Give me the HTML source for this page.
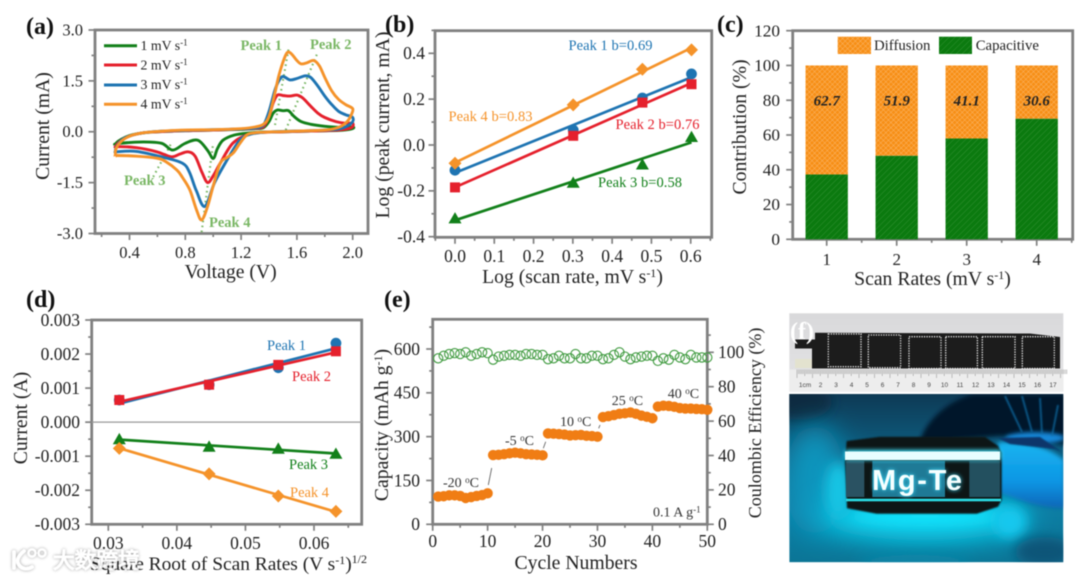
<!DOCTYPE html>
<html lang="en">
<head>
<meta charset="utf-8">
<title>Mg-Te battery electrochemistry figure</title>
<style>
html,body{margin:0;padding:0;background:#fff;width:1080px;height:579px;overflow:hidden}
#figure{display:block;filter:blur(0.45px)}
text{font-family:"Liberation Serif","Noto Serif CJK SC",serif;fill:#222}
.title{font-size:19.7px}
.panel{font-size:24px;font-weight:bold;fill:#111}
.anno{font-size:14.5px;font-weight:bold;fill:#7ab765}
.lab{font-size:14.5px}
.temp{font-size:14px;fill:#333}
</style>
</head>
<body>
<svg id="figure" xmlns="http://www.w3.org/2000/svg" width="1080" height="579" viewBox="0 0 1080 579">
<defs>
<pattern id="hatch-orange" width="3.6" height="3.6" patternUnits="userSpaceOnUse" patternTransform="rotate(45)">
<rect width="3.6" height="3.6" fill="#f78f16"/>
<path d="M0 0H3.6M0 0V3.6" stroke="#fcc17f" stroke-width="0.75"/>
</pattern>
<pattern id="hatch-green" width="4.2" height="4.2" patternUnits="userSpaceOnUse" patternTransform="rotate(-45)">
<rect width="4.2" height="4.2" fill="#0b7a0f"/>
<path d="M0 0H4.2" stroke="#3f993f" stroke-width="0.7"/>
</pattern>
<linearGradient id="glow-base" x1="0" y1="0" x2="0" y2="1">
<stop offset="0" stop-color="#0d3a55"/><stop offset="0.35" stop-color="#0d5f82"/><stop offset="0.7" stop-color="#0d7da3"/><stop offset="1" stop-color="#0b7596"/>
</linearGradient>
<linearGradient id="finger-fill" x1="0" y1="0" x2="0" y2="1">
<stop offset="0" stop-color="#18b4f0"/><stop offset="0.6" stop-color="#0d96e4"/><stop offset="1" stop-color="#0866b8"/>
</linearGradient>
<linearGradient id="photo-top-bg" x1="0" y1="0" x2="0" y2="1">
<stop offset="0" stop-color="#d9d9db"/><stop offset="1" stop-color="#e4e4e6"/>
</linearGradient>
<filter id="soft14" x="-60%" y="-100%" width="220%" height="300%"><feGaussianBlur stdDeviation="14"/></filter>
<filter id="soft6" x="-60%" y="-60%" width="220%" height="220%"><feGaussianBlur stdDeviation="6"/></filter>
<filter id="soft2" x="-20%" y="-40%" width="140%" height="180%"><feGaussianBlur stdDeviation="2"/></filter>
<filter id="soft1" x="-10%" y="-10%" width="120%" height="120%"><feGaussianBlur stdDeviation="0.8"/></filter>
<filter id="wm-shadow" x="-20%" y="-30%" width="140%" height="160%"><feDropShadow dx="0" dy="0" stdDeviation="1.6" flood-color="#000" flood-opacity="0.45"/></filter>
<clipPath id="clip-photo-bottom"><rect x="789.3" y="394" width="274" height="168.3"/></clipPath>
</defs>
<rect width="1080" height="579" fill="#fff"/>

<!-- photos -->
<g id="photo-strip">
<rect x="789.3" y="313.3" width="274" height="78.4" fill="url(#photo-top-bg)"/>
<path d="M795 339.5H815V332.7L1030 333.5L1060 337V368.5H812V348.5H795Z" fill="#1c1c1c"/>
<rect x="795" y="359" width="17" height="9" fill="#e3e2cf"/>
<g fill="none" stroke="#f2f2f2" stroke-width="1.3" stroke-dasharray="1.2 1.3">
<rect x="828.3" y="334" width="32.7" height="32.7"/>
<rect x="868.3" y="335" width="32.3" height="32.7"/>
<rect x="909" y="336.7" width="32" height="31.7"/>
<rect x="945.7" y="336.7" width="31.7" height="31.7"/>
<rect x="982.3" y="336.7" width="32.7" height="31.7"/>
<rect x="1022.3" y="336.7" width="32" height="31.7"/>
</g>
<rect x="789.3" y="369.5" width="274" height="22" fill="#ededed"/>
<g id="ruler-marks"></g>
</g>
<g id="photo-glow" clip-path="url(#clip-photo-bottom)">
<rect x="789.3" y="394" width="274" height="168.3" fill="url(#glow-base)"/>
<ellipse cx="798" cy="402" rx="34" ry="18" fill="#0c2a40" filter="url(#soft6)"/>
<ellipse cx="815" cy="480" rx="30" ry="55" fill="#1195bd" filter="url(#soft14)"/>
<ellipse cx="925" cy="518" rx="105" ry="22" fill="#10dcf8" filter="url(#soft14)"/>
<ellipse cx="925" cy="516" rx="75" ry="7" fill="#16e8ff" opacity="0.7" filter="url(#soft6)"/>
<ellipse cx="838" cy="490" rx="13" ry="28" fill="#12c4e4" filter="url(#soft6)"/>
<ellipse cx="1010" cy="522" rx="16" ry="16" fill="#12c8ee" filter="url(#soft6)"/>
<ellipse cx="915" cy="562" rx="55" ry="7" fill="#0b86a8" filter="url(#soft6)"/>
<ellipse cx="1045" cy="552" rx="30" ry="15" fill="#0a5478" filter="url(#soft6)"/>
<path d="M920 440C928 418 948 402 972 394H1066V445L1000 436L925 442Z" fill="#02192c" filter="url(#soft2)"/>
<ellipse cx="1035" cy="438" rx="30" ry="6" fill="#1287d8" filter="url(#soft2)"/>
<g stroke="#0f6ea8" stroke-width="1.8" opacity="0.8" filter="url(#soft1)">
<path d="M1005 396L1022 432"/><path d="M1022 396L1032 432"/>
<path d="M1040 398L1042 434"/><path d="M1058 405L1052 436"/>
</g>
<path d="M998 442C1030 442 1050 448 1064 460V508C1040 508 1020 500 998 492Z" fill="url(#finger-fill)" filter="url(#soft2)"/>
<path d="M998 438L1040 437L1062 452L1055 449L1010 444Z" fill="#07356a" filter="url(#soft1)"/>
<path d="M846.7 441L880 436.7L985 436.7L998 446L1001.7 453V500L998 506.7L976.7 513.7H876.7L847 508.3L845 460Z" fill="#0e1418" filter="url(#soft1)"/>
<rect x="846" y="461" width="18.3" height="36" fill="#2a5262"/>
<rect x="969.3" y="461" width="30.7" height="36" fill="#23505f"/>
<rect x="872.3" y="461" width="72.7" height="36" fill="#1f7a96"/>
<rect x="845" y="450" width="156" height="10" rx="2" fill="#3fe6ff" filter="url(#soft2)"/>
<rect x="845" y="451.5" width="155" height="8.5" fill="#e8feff"/>
<rect x="846" y="498.7" width="155" height="2.6" fill="#2cdde4"/>
<text x="872" y="490" style="font-family:'Liberation Sans',sans-serif;font-size:29px;font-weight:bold;fill:#3fe0ff" textLength="90" filter="url(#soft2)">Mg-Te</text>
<text x="872" y="490" style="font-family:'Liberation Sans',sans-serif;font-size:29px;font-weight:bold;fill:#f6ffff" textLength="90">Mg-Te</text>
</g>

<!-- static titles -->
<text class="panel" x="26" y="34">(a)</text>
<text class="panel" x="385" y="32">(b)</text>
<text class="panel" x="717" y="32">(c)</text>
<text class="panel" x="26" y="307">(d)</text>
<text class="panel" x="384" y="307">(e)</text>
<text class="panel" x="790" y="339" style="fill:#fff">(f)</text>

<text class="title" x="230.7" y="278" text-anchor="middle">Voltage (V)</text>
<text class="title" transform="translate(49,126) rotate(-90)" text-anchor="middle">Current (mA)</text>

<text class="title" x="572.5" y="283" text-anchor="middle">Log (scan rate, mV s<tspan dy="-6" font-size="12">-1</tspan><tspan dy="6">)</tspan></text>
<text class="title" transform="translate(389,125) rotate(-90)" text-anchor="middle">Log (peak current, mA)</text>

<text class="title" x="932.5" y="285" text-anchor="middle">Scan Rates (mV s<tspan dy="-6" font-size="12">-1</tspan><tspan dy="6">)</tspan></text>
<text class="title" transform="translate(746,127) rotate(-90)" text-anchor="middle">Contribution (%)</text>

<text class="title" style="font-size:19.4px" x="228.5" y="570" text-anchor="middle">Square Root of Scan Rates (V s<tspan dy="-6" font-size="12">-1</tspan><tspan dy="6">)</tspan><tspan dy="-7" font-size="12">1/2</tspan></text>
<text class="title" transform="translate(27,418) rotate(-90)" text-anchor="middle">Current (A)</text>

<text class="title" x="576" y="569" text-anchor="middle">Cycle Numbers</text>
<text class="title" transform="translate(388,425) rotate(-90)" text-anchor="middle">Capacity (mAh g<tspan dy="-6" font-size="12">-1</tspan><tspan dy="6">)</tspan></text>
<text class="title" style="font-size:18px" transform="translate(761,423) rotate(-90)" text-anchor="middle">Coulombic Efficiency (%)</text>

<g id="panel-a"></g>
<g id="panel-b"></g>
<g id="panel-c"></g>
<g id="panel-d"></g>
<g id="panel-e"></g>

<!-- annotations a -->
<text class="anno" x="240.5" y="50">Peak 1</text>
<text class="anno" x="310" y="49">Peak 2</text>
<text class="anno" x="124" y="185">Peak 3</text>
<text class="anno" x="209" y="227">Peak 4</text>
<!-- legend a -->
<g>
<path d="M104 45.7H137" stroke="#12801a" stroke-width="3"/>
<path d="M104 65H137" stroke="#e5202c" stroke-width="3"/>
<path d="M104 85H137" stroke="#1e74b2" stroke-width="3"/>
<path d="M104 104.3H137" stroke="#f5932a" stroke-width="3"/>
<text x="140.5" y="50" font-size="13.8">1 mV s<tspan dy="-4.5" font-size="9">-1</tspan></text>
<text x="140.5" y="69.5" font-size="13.8">2 mV s<tspan dy="-4.5" font-size="9">-1</tspan></text>
<text x="140.5" y="89" font-size="13.8">3 mV s<tspan dy="-4.5" font-size="9">-1</tspan></text>
<text x="140.5" y="108.5" font-size="13.8">4 mV s<tspan dy="-4.5" font-size="9">-1</tspan></text>
</g>
<!-- annotations b -->
<text class="lab" x="568.5" y="50" style="fill:#1e74b2" textLength="84">Peak 1 b=0.69</text>
<text class="lab" x="615.5" y="129" style="fill:#e5202c" textLength="84">Peak 2 b=0.76</text>
<text class="lab" x="598" y="187" style="fill:#12801a" textLength="84">Peak 3 b=0.58</text>
<text class="lab" x="448.5" y="121" style="fill:#f5932a" textLength="84">Peak 4 b=0.83</text>
<!-- legend c -->
<g>
<rect x="837.7" y="36.7" width="33.3" height="17.3" fill="url(#hatch-orange)"/>
<text x="874" y="50" font-size="14.8">Diffusion</text>
<rect x="939" y="36.7" width="33" height="17.3" fill="url(#hatch-green)"/>
<text x="975.7" y="50" font-size="14.8">Capacitive</text>
</g>
<!-- annotations d -->
<text class="lab" x="267" y="350" style="fill:#1e74b2">Peak 1</text>
<text class="lab" x="292" y="381" style="fill:#e5202c">Peak 2</text>
<text class="lab" x="289" y="469" style="fill:#12801a">Peak 3</text>
<text class="lab" x="290" y="497" style="fill:#f5932a">Peak 4</text>
<!-- annotations e -->
<g stroke="#555" stroke-width="0.8">
<path d="M488.3 485L491.7 468"/>
<path d="M543.3 448.3L545.7 441.7"/>
<path d="M598.7 428.3L600 425"/>
</g>
<text class="temp" x="443" y="487">-20 <tspan dy="-4" font-size="9">o</tspan><tspan dy="4">C</tspan></text>
<text class="temp" x="505" y="445">-5 <tspan dy="-4" font-size="9">o</tspan><tspan dy="4">C</tspan></text>
<text class="temp" x="560" y="426">10 <tspan dy="-4" font-size="9">o</tspan><tspan dy="4">C</tspan></text>
<text class="temp" x="611.7" y="405">25 <tspan dy="-4" font-size="9">o</tspan><tspan dy="4">C</tspan></text>
<text class="temp" x="667.7" y="398">40 <tspan dy="-4" font-size="9">o</tspan><tspan dy="4">C</tspan></text>
<text class="temp" x="653" y="516.7" font-size="13">0.1 A g<tspan dy="-4" font-size="9">-1</tspan></text>

<!-- watermark -->
<g filter="url(#wm-shadow)" opacity="0.85">
<g fill="none" stroke="#fff" stroke-width="3.6" stroke-linecap="round">
<path d="M14 552V568M24 551C18 556 16 561 19 565C22 569 27 570 32 567"/>
<circle cx="32" cy="553" r="3.6" stroke-width="2.2"/>
<circle cx="42" cy="553" r="3.6" stroke-width="2.2"/>
</g>
<text x="53" y="568" style="font-family:'Liberation Sans','Noto Sans CJK SC',sans-serif;font-size:21.7px;fill:#fff;stroke:#fff;stroke-width:0.9">大数跨境</text>
</g>
</svg>

<script>
// ---- Panel (a): cyclic voltammetry loops ----
const cv1Voltage=[0.3,0.3,0.32,0.36,0.42,0.5,0.6,0.8,1.0,1.2,1.3,1.36,1.4,1.43,1.46,1.5,1.54,1.58,1.63,1.7,1.8,1.9,2.0,1.99,1.9,1.7,1.5,1.35,1.25,1.15,1.07,1.03,1.0,0.96,0.89,0.8,0.71,0.63,0.5,0.31,0.3];
const cv1Current=[-0.4,-0.36,-0.28,-0.18,-0.09,-0.03,0.0,0.03,0.05,0.07,0.09,0.12,0.3,0.55,0.64,0.62,0.62,0.45,0.3,0.22,0.16,0.13,0.14,0.08,0.04,0.02,0.0,-0.01,-0.04,-0.1,-0.25,-0.5,-0.79,-0.55,-0.25,-0.34,-0.54,-0.34,-0.3,-0.35,-0.4];
const cv2Voltage=[0.3,0.3,0.32,0.36,0.42,0.5,0.6,0.8,1.0,1.2,1.3,1.36,1.4,1.43,1.46,1.5,1.55,1.6,1.64,1.7,1.75,1.8,1.88,1.95,2.0,1.99,1.9,1.7,1.5,1.35,1.25,1.14,1.05,1.0,0.96,0.92,0.87,0.82,0.76,0.7,0.595,0.45,0.31,0.3];
const cv2Current=[-0.48,-0.44,-0.33,-0.2,-0.1,-0.03,0.0,0.03,0.05,0.08,0.1,0.15,0.45,0.85,1.08,1.07,1.05,1.08,1.0,0.75,0.55,0.42,0.3,0.25,0.25,0.12,0.05,0.02,0.0,-0.02,-0.08,-0.34,-0.93,-1.3,-1.5,-1.2,-0.72,-0.59,-0.66,-0.74,-0.59,-0.47,-0.44,-0.48];
const cv3Voltage=[0.3,0.3,0.32,0.36,0.42,0.5,0.6,0.8,1.0,1.2,1.3,1.36,1.4,1.44,1.47,1.5,1.55,1.6,1.66,1.7,1.75,1.8,1.85,1.9,1.95,2.0,1.99,1.9,1.7,1.5,1.35,1.26,1.19,1.1,1.01,0.94,0.88,0.83,0.78,0.64,0.45,0.31,0.3];
const cv3Current=[-0.6,-0.52,-0.36,-0.2,-0.1,-0.03,0.01,0.04,0.06,0.08,0.11,0.2,0.6,1.2,1.5,1.63,1.53,1.57,1.65,1.6,1.35,1.05,0.8,0.6,0.5,0.42,0.25,0.08,0.03,0.01,-0.02,-0.08,-0.25,-0.83,-1.5,-2.2,-1.75,-1.2,-0.93,-0.75,-0.58,-0.59,-0.6];
const cv4Voltage=[0.3,0.3,0.32,0.36,0.42,0.5,0.6,0.8,1.0,1.2,1.3,1.36,1.4,1.44,1.47,1.5,1.53,1.56,1.6,1.63,1.67,1.72,1.76,1.8,1.85,1.9,1.95,2.0,1.99,1.96,1.9,1.8,1.6,1.45,1.3,1.24,1.19,1.145,1.1,1.05,1.0,0.96,0.917,0.88,0.833,0.78,0.74,0.66,0.595,0.45,0.31,0.3];
const cv4Current=[-0.72,-0.55,-0.38,-0.22,-0.1,-0.03,0.01,0.05,0.06,0.09,0.14,0.22,0.45,1.1,1.65,2.05,2.33,2.3,2.1,2.0,2.03,2.1,1.95,1.6,1.2,0.95,0.8,0.68,0.5,0.3,0.13,0.05,0.02,0.0,-0.03,-0.1,-0.35,-0.62,-0.76,-0.93,-1.6,-2.2,-2.6,-2.3,-1.72,-1.35,-1.13,-0.88,-0.78,-0.72,-0.7,-0.72];
const aPeak1GuideV=[1.443,1.543]; const aPeak1GuideI=[0.2,2.5];
const aPeak2GuideV=[1.52,1.75];   const aPeak2GuideI=[0.05,2.35];
const aPeak3GuideV=[0.57,0.705];  const aPeak3GuideI=[-1.33,-0.3];
const aPeak4GuideV=[0.917,0.998]; const aPeak4GuideI=[-2.96,-0.39];
const aXTickLabels=['0.4','0.8','1.2','1.6','2.0'];
const aYTickLabels=['3.0','1.5','0.0','-1.5','-3.0'];

// ---- Panel (b): log peak current vs log scan rate ----
const bLogRate=[0,0.301,0.477,0.602];
const bPeak1=[-0.11,0.065,0.205,0.31];
const bPeak2=[-0.185,0.04,0.185,0.265];
const bPeak3=[-0.32,-0.165,-0.085,0.035];
const bPeak4=[-0.08,0.175,0.33,0.415];
const bXTickLabels=['0.0','0.1','0.2','0.3','0.4','0.5','0.6'];
const bYTickLabels=['0.4','0.2','0.0','-0.2','-0.4'];

// ---- Panel (c): stacked contribution bars ----
const cRates=['1','2','3','4'];
const cCapacitive=[37.3,48.1,58,69.4];
const cDiffusion=[62.7,51.9,42,30.6];
const cPrintedDiffusion=['62.7','51.9','41.1','30.6'];
const cYTickLabels=['0','20','40','60','80','100','120'];

// ---- Panel (d): current vs sqrt scan rate ----
const dSqrtRate=[0.0316,0.0447,0.0548,0.0632];
const dPeak1=[0.00065,0.0011,0.0016,0.00232];
const dPeak2=[0.00065,0.0011,0.00168,0.00208];
const dPeak3=[-0.0005,-0.00072,-0.00078,-0.00093];
const dPeak4=[-0.00077,-0.00152,-0.00217,-0.00262];
const dXTickLabels=['0.03','0.04','0.05','0.06'];
const dYTickLabels=['0.003','0.002','0.001','0.000','-0.001','-0.002','-0.003'];

// ---- Panel (e): rate cycling at temperatures ----
const eCapacity=[95,96,99,99,97,90,93,97,100,106,237,238,240,243,245,243,240,239,238,236,311,310,309,307,304,305,306,303,302,300,367,370,374,378,380,383,378,372,368,363,403,406,405,402,398,396,396,395,394,392];
const eEfficiency=[96.5,98,99,99.5,99,100,98,99,100,99.5,95.7,97.5,98,98.5,98.5,98,99,99,98.5,98.5,96,96.5,98,96.5,96.5,99,96.5,96.5,98,98,96,96.5,98.5,100,97.5,96,97,97.5,98,98,95,96.5,95.7,98.5,97,96,98.5,97,97,97];
const eXTickLabels=['0','10','20','30','40','50'];
const eLeftTickLabels=['0','150','300','450','600'];
const eRightTickLabels=['0','20','40','60','80','100'];

const rulerNumbers=['1cm','2','3','4','5','6','7','8','9','10','11','12','13','14','15','16','17'];

const SVGNS='http://www.w3.org/2000/svg';
const GREEN='#12801a',RED='#e5202c',BLUE='#1e74b2',ORANGE='#f5932a',AXIS='#808080';

function mk(tag,attrs,name,parent){
  const el=document.createElementNS(SVGNS,tag);
  for(const k in attrs){el.setAttribute(k,attrs[k]);}
  
  
  parent.appendChild(el);
  return el;
}
function linear(d0,r0,d1,r1){const m=(r1-r0)/(d1-d0);return v=>r0+(v-d0)*m;}
function frame(parent,f,prefix){
  mk('rect',{x:f.l,y:f.t,width:f.r-f.l,height:f.b-f.t,fill:'none',stroke:AXIS,'stroke-width':2.8},prefix+'-frame',parent);
}
function axis(parent,prefix,side,scale,labels,f,o){
  const ticks=labels.map(Number);
  const isX=side==='bottom';
  const dir=side==='right'?1:(side==='left'?-1:1);
  const pos=side==='bottom'?f.b:(side==='left'?f.l:f.r);
  const lo=isX?f.l:f.t, hi=isX?f.r:f.b;
  const step=ticks[1]-ticks[0];
  const inRange=p=>p>=lo-0.5&&p<=hi+0.5;
  const drawTick=(p,len,name)=>{
    const a=isX?{x1:p,x2:p,y1:pos,y2:pos+len}:{y1:p,y2:p,x1:pos,x2:pos+dir*len};
    a.stroke=AXIS;
    a['stroke-width']=1.7;
    mk('line',a,name,parent);
  };
  ticks.forEach((t,i)=>{
    drawTick(scale(t),o.major||6.5,prefix+'-major-tick-'+labels[i]);
    const tx={'font-size':o.fs};
    if(isX){tx.x=scale(t);tx.y=o.base;tx['text-anchor']='middle';}
    else{tx.x=o.base;tx.y=scale(t)+o.fs*0.33;tx['text-anchor']=side==='left'?'end':'start';}
    const lab=mk('text',tx,prefix+'-tick-label-'+labels[i],parent);
    lab.textContent=labels[i];
  });
  for(let i=-1;i<ticks.length;i++){
    const m=ticks[0]+step*(i+0.5);
    if(inRange(scale(m))){drawTick(scale(m),3.5,prefix+'-minor-tick-'+(i+1));}
  }
}
// Catmull-Rom path through the read points, smooth only between them
function smoothPath(px,py){
  let d='M'+px[0].toFixed(1)+' '+py[0].toFixed(1);
  const n=px.length;
  for(let i=0;i<n-1;i++){
    const i0=Math.max(i-1,0),i3=Math.min(i+2,n-1);
    const c1x=px[i]+(px[i+1]-px[i0])/6,c1y=py[i]+(py[i+1]-py[i0])/6;
    const c2x=px[i+1]-(px[i3]-px[i])/6,c2y=py[i+1]-(py[i3]-py[i])/6;
    d+='C'+c1x.toFixed(1)+' '+c1y.toFixed(1)+' '+c2x.toFixed(1)+' '+c2y.toFixed(1)+' '+px[i+1].toFixed(1)+' '+py[i+1].toFixed(1);
  }
  return d;
}
function lsq(xs,ys){
  const n=xs.length,mx=xs.reduce((a,b)=>a+b,0)/n,my=ys.reduce((a,b)=>a+b,0)/n;
  let sxy=0,sxx=0;
  xs.forEach((x,i)=>{sxy+=(x-mx)*(ys[i]-my);sxx+=(x-mx)*(x-mx);});
  const b=sxy/sxx;
  return x=>my+b*(x-mx);
}
function marker(parent,shape,cx,cy,color,name){
  if(shape==='circle'){return mk('circle',{cx:cx,cy:cy,r:5.4,fill:color},name,parent);}
  let pts;
  if(shape==='square'){pts=[[-5,-5],[5,-5],[5,5],[-5,5]];}
  if(shape==='triangle'){pts=[[0,-6.3],[6.5,5],[-6.5,5]];}
  if(shape==='diamond'){pts=[[0,-6.5],[6.5,0],[0,6.5],[-6.5,0]];}
  return mk('polygon',{points:pts.map(p=>(cx+p[0]).toFixed(1)+','+(cy+p[1]).toFixed(1)).join(' '),fill:color},name,parent);
}
function fitSeries(parent,prefix,xs,ys,sx,sy,color,shape){
  const fit=lsq(xs,ys);
  const x0=xs[0],x1=xs[xs.length-1];
  mk('line',{x1:sx(x0),y1:sy(fit(x0)),x2:sx(x1),y2:sy(fit(x1)),stroke:color,'stroke-width':2.7},prefix+'-fit-line',parent);
  xs.forEach((x,i)=>{marker(parent,shape,sx(x),sy(ys[i]),color,prefix+'-point-'+(i+1));});
}

// panel a
(function(){
  const g=document.getElementById('panel-a');
  const f={l:95,r:368,t:30,b:233.5};
  const sx=linear(0.4,129.5,2.0,352.7),sy=linear(3,30,-3,233.5);
  frame(g,f,'a');
  axis(g,'a-x','bottom',sx,aXTickLabels,f,{fs:16.5,base:258});
  axis(g,'a-y','left',sy,aYTickLabels,f,{fs:16.5,base:83});
  [[aPeak1GuideV,aPeak1GuideI,'peak-1'],[aPeak2GuideV,aPeak2GuideI,'peak-2'],[aPeak3GuideV,aPeak3GuideI,'peak-3'],[aPeak4GuideV,aPeak4GuideI,'peak-4']].forEach(s=>{
    mk('line',{x1:sx(s[0][0]),y1:sy(s[1][0]),x2:sx(s[0][1]),y2:sy(s[1][1]),stroke:'#7ab765','stroke-width':2.1,'stroke-dasharray':'1.6 3.4'},'a-'+s[2]+'-guide',g);
  });
  [[cv1Voltage,cv1Current,GREEN,'1mv'],[cv2Voltage,cv2Current,RED,'2mv'],[cv3Voltage,cv3Current,BLUE,'3mv'],[cv4Voltage,cv4Current,ORANGE,'4mv']].forEach(s=>{
    mk('path',{d:smoothPath(s[0].map(sx),s[1].map(sy)),fill:'none',stroke:s[2],'stroke-width':2.9,'stroke-linejoin':'round'},'cv-curve-'+s[3],g);
  });
})();

// panel b
(function(){
  const g=document.getElementById('panel-b');
  const f={l:435,r:711.7,t:30.7,b:237.3};
  const sx=linear(0,455,0.6,690.7),sy=linear(0.4,53.3,-0.4,236.7);
  frame(g,f,'b');
  axis(g,'b-x','bottom',sx,bXTickLabels,f,{fs:17.5,base:262});
  axis(g,'b-y','left',sy,bYTickLabels,f,{fs:17.5,base:425});
  fitSeries(g,'b-peak-3',bLogRate,bPeak3,sx,sy,GREEN,'triangle');
  fitSeries(g,'b-peak-1',bLogRate,bPeak1,sx,sy,BLUE,'circle');
  fitSeries(g,'b-peak-2',bLogRate,bPeak2,sx,sy,RED,'square');
  fitSeries(g,'b-peak-4',bLogRate,bPeak4,sx,sy,ORANGE,'diamond');
})();

// panel c
(function(){
  const g=document.getElementById('panel-c');
  const f={l:792.7,r:1072.7,t:30.7,b:239.3};
  const sx=linear(1,826.7,4,1036.7),sy=linear(0,239.3,120,30.7);
  const barW=42.3;
  frame(g,f,'c');
  axis(g,'c-x','bottom',sx,cRates,f,{fs:17,base:265});
  axis(g,'c-y','left',sy,cYTickLabels.slice().reverse(),f,{fs:17.3,base:780});
  cRates.forEach((r,i)=>{
    const x=sx(Number(r))-barW/2;
    const capTop=sy(cCapacitive[i]);
    const difTop=sy(cCapacitive[i]+cDiffusion[i]);
    mk('rect',{x:x,y:capTop,width:barW,height:sy(0)-capTop,fill:'url(#hatch-green)'},'bar-capacitive-'+r,g);
    mk('rect',{x:x,y:difTop,width:barW,height:capTop-difTop,fill:'url(#hatch-orange)'},'bar-diffusion-'+r,g);
    const t=mk('text',{x:sx(Number(r)),y:sy(80)+5.5,'text-anchor':'middle','font-size':15,'font-weight':'bold','font-style':'italic'},'bar-value-'+r,g);
    t.textContent=cPrintedDiffusion[i];
  });
})();

// panel d
(function(){
  const g=document.getElementById('panel-d');
  const f={l:91.7,r:361.7,t:320,b:524.3};
  const sx=linear(0.03,108.3,0.06,314),sy=linear(0.003,320,-0.003,524.3);
  frame(g,f,'d');
  axis(g,'d-x','bottom',sx,dXTickLabels,f,{fs:17.5,base:549});
  axis(g,'d-y','left',sy,dYTickLabels,f,{fs:17.5,base:80});
  mk('line',{x1:f.l,x2:f.r,y1:sy(0),y2:sy(0),stroke:'#999','stroke-width':1.2},'d-zero-line',g);
  fitSeries(g,'d-peak-1',dSqrtRate,dPeak1,sx,sy,BLUE,'circle');
  fitSeries(g,'d-peak-2',dSqrtRate,dPeak2,sx,sy,RED,'square');
  fitSeries(g,'d-peak-3',dSqrtRate,dPeak3,sx,sy,GREEN,'triangle');
  fitSeries(g,'d-peak-4',dSqrtRate,dPeak4,sx,sy,ORANGE,'diamond');
})();

// panel e
(function(){
  const g=document.getElementById('panel-e');
  const f={l:432.7,r:707.3,t:319.3,b:524.3};
  const sx=linear(0,432.7,50,707.3),syL=linear(0,524.3,600,349),syR=linear(0,524.3,100,352.3);
  frame(g,f,'e');
  axis(g,'e-x','bottom',sx,eXTickLabels,f,{fs:17.5,base:547});
  axis(g,'e-left','left',syL,eLeftTickLabels,f,{fs:17.5,base:420});
  axis(g,'e-right','right',syR,eRightTickLabels,f,{fs:17.5,base:718});
  eEfficiency.forEach((v,i)=>{
    mk('circle',{cx:sx(i+1),cy:syR(v),r:4.6,fill:'none',stroke:'#3f9a3f','stroke-width':1.1},'efficiency-point-'+(i+1),g);
  });
  eCapacity.forEach((v,i)=>{
    mk('circle',{cx:sx(i+1),cy:syL(v),r:5.2,fill:'#f07d14'},'capacity-point-'+(i+1),g);
  });
})();

// ruler marks in the photo
(function(){
  const g=document.getElementById('ruler-marks');
  const sx=linear(0,805,1,820.5);
  for(let i=0;i<=174;i++){
    const x=797+i*1.55;
    mk('line',{x1:x,x2:x,y1:369.5,y2:i%10===0?378:(i%5===0?376:374),stroke:'#8a8a8a','stroke-width':0.5},'ruler-tick-'+i,g);
  }
  rulerNumbers.forEach((n,i)=>{
    const t=mk('text',{x:sx(i),y:387,'text-anchor':'middle','font-size':6.5,style:'font-family:"Liberation Sans",sans-serif;fill:#444'},'ruler-number-'+n,g);
    t.textContent=n;
  });
})();
</script>
</body>
</html>
